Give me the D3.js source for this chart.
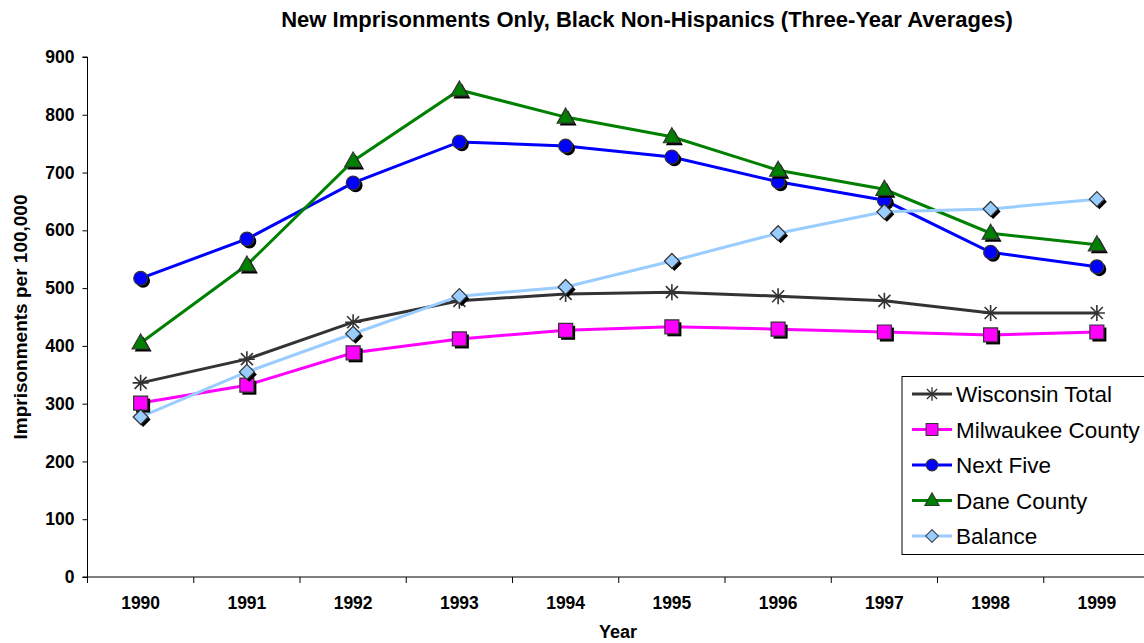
<!DOCTYPE html>
<html><head><meta charset="utf-8">
<script src="https://cdn.jsdelivr.net/npm/d3@7"></script>
<style>body{margin:0;background:#fff}svg{display:block;font-family:Arial,"Liberation Sans",sans-serif}</style>
</head><body><svg id="c" width="1144" height="643"></svg>
<script>
const years = ["1990","1991","1992","1993","1994","1995","1996","1997","1998","1999"];
const wisconsinTotal = [336, 377, 441, 478, 490, 493, 486, 478, 457, 457];
const milwaukeeCounty = [301, 332, 388, 412, 427, 433, 429, 424, 419, 424];
const nextFive = [517, 585, 682, 753, 746, 727, 684, 652, 562, 537];
const daneCounty = [405, 540, 720, 843, 796, 762, 704, 671, 595, 575];
const balance = [277, 355, 421, 486, 502, 547, 595, 632, 637, 654];
const yTicks = [0,100,200,300,400,500,600,700,800,900];
const seriesNames = ["Wisconsin Total","Milwaukee County","Next Five","Dane County","Balance"];

const series = [
  {name: seriesNames[0], values: wisconsinTotal, color: "#333333", marker: "star"},
  {name: seriesNames[1], values: milwaukeeCounty, color: "#FF00FF", marker: "square"},
  {name: seriesNames[2], values: nextFive, color: "#0000FF", marker: "circle"},
  {name: seriesNames[3], values: daneCounty, color: "#008000", marker: "triangle"},
  {name: seriesNames[4], values: balance, color: "#99CCFF", marker: "diamond"}
];

const FF = "Arial, 'Liberation Sans', sans-serif";
const svg = d3.select("#c");
const L = 87.5, R = 1150, T = 57, B = 577;
const x = d3.scaleBand().domain(years).range([L, R]);
const y = d3.scaleLinear().domain([0, 900]).range([B, T]);

svg.append("text").attr("x", 647).attr("y", 27).attr("text-anchor","middle")
  .attr("font-size", 22).attr("font-weight","bold").text("New Imprisonments Only, Black Non-Hispanics (Three-Year Averages)");

// axes
const ya = svg.append("g").attr("transform", `translate(${L},0)`)
  .call(d3.axisLeft(y).tickValues(yTicks).tickSize(5).tickPadding(8));
ya.select(".domain").attr("stroke","#000").attr("d", `M-5,${B}H0V${T}H-5`);
ya.selectAll(".tick line").attr("stroke","#000");
ya.selectAll("text").attr("font-size", 17.5).attr("font-weight","bold").attr("font-family",FF).attr("fill","#000");

const xa = svg.append("g").attr("transform", `translate(0,${B})`)
  .call(d3.axisBottom(x).tickSize(0).tickPadding(20));
xa.select(".domain").attr("stroke","#000").attr("d", `M${L},0H${R}`);
xa.selectAll("text").attr("font-size", 17.5).attr("font-weight","bold").attr("font-family",FF).attr("fill","#000");
xa.selectAll("line.bt").data(years.concat(["end"])).enter().append("line").attr("class","bt")
  .attr("x1", (d,i)=> L + i*x.step()).attr("x2",(d,i)=> L + i*x.step()).attr("y1",0).attr("y2",6).attr("stroke","#000");

svg.append("text").attr("transform","translate(27,317) rotate(-90)").attr("text-anchor","middle")
  .attr("font-size", 19).attr("font-weight","bold").text("Imprisonments per 100,000");
svg.append("text").attr("x", 618).attr("y", 638).attr("text-anchor","middle")
  .attr("font-size", 18).attr("font-weight","bold").text("Year");

function markerPath(type) {
  const s = 7;
  switch(type) {
    case "square": return `M${-s},${-s}H${s}V${s}H${-s}Z`;
    case "circle": return d3.symbol(d3.symbolCircle, 150)();
    case "triangle": return `M0,${-9}L${8.5},${6}H${-8.5}Z`;
    case "diamond": return `M0,${-7.5}L${7.5},0L0,${7.5}L${-7.5},0Z`;
    case "star": return `M-8,0H8M0,-8V8M-6,-6L6,6M-6,6L6,-6`;
  }
}

const cx = d => x(d) + x.bandwidth()/2;
const line = d3.line().x((d,i)=>cx(years[i])).y(d=>y(d));

function drawMarker(g, type, color, px, py) {
  if (type === "star") {
    g.append("path").attr("d", markerPath(type)).attr("transform",`translate(${px},${py})`)
      .attr("stroke", "#333").attr("stroke-width", 1.6).attr("fill","none");
  } else {
    g.append("path").attr("d", markerPath(type)).attr("transform",`translate(${px+2.5},${py+2.5})`)
      .attr("fill","#000");
    g.append("path").attr("d", markerPath(type)).attr("transform",`translate(${px},${py})`)
      .attr("fill", color).attr("stroke","#333").attr("stroke-width",1.2);
  }
}

series.forEach(s => {
  svg.append("path").datum(s.values).attr("d", line).attr("fill","none")
    .attr("stroke", s.color).attr("stroke-width", 3);
});
series.forEach(s => {
  const g = svg.append("g");
  s.values.forEach((v,i) => drawMarker(g, s.marker, s.color, cx(years[i]), y(v)));
});

// legend
const lg = svg.append("g");
lg.append("rect").attr("x", 902).attr("y", 376.5).attr("width", 250).attr("height", 178)
  .attr("fill","#fff").attr("stroke","#000").attr("stroke-width",1);
series.forEach((s,i) => {
  const yy = 394 + i*35.5;
  lg.append("line").attr("x1", 912).attr("x2", 952).attr("y1", yy).attr("y2", yy)
    .attr("stroke", s.color).attr("stroke-width", 3);
  if (s.marker === "star") {
    lg.append("path").attr("d", markerPath("star")).attr("transform",`translate(932,${yy}) scale(0.85)`)
      .attr("stroke","#333").attr("stroke-width",1.6).attr("fill","none");
  } else {
    lg.append("path").attr("d", markerPath(s.marker)).attr("transform",`translate(932,${yy}) scale(0.85)`)
      .attr("fill", s.color).attr("stroke","#333").attr("stroke-width",1.2);
  }
  lg.append("text").attr("x", 956).attr("y", yy + 8).attr("font-size", 22.5).text(s.name);
});
</script></body></html>
